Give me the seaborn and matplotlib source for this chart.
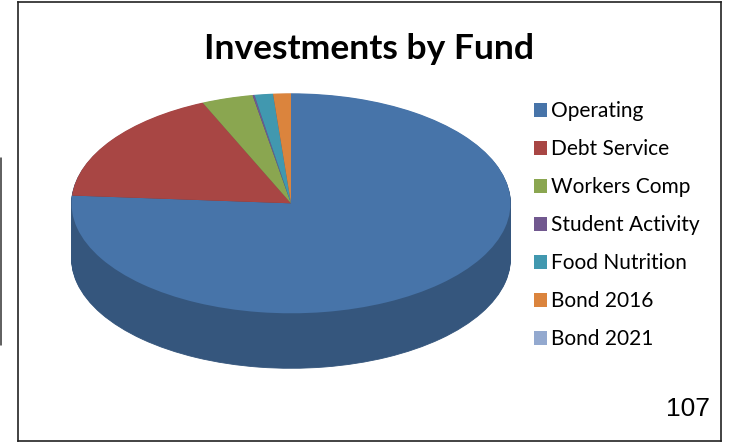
import matplotlib
matplotlib.use("Agg")
import matplotlib.pyplot as plt
import seaborn as sns
from matplotlib.lines import Line2D

categories = ["Operating", "Debt Service", "Workers Comp", "Student Activity",
              "Food Nutrition", "Bond 2016", "Bond 2021"]
values = [76.2, 17.3, 3.79, 0.14, 1.36, 1.31, 0.0]
colors = ["#4774A9", "#A84644", "#8AA650", "#71588F", "#4198AF", "#DB843D", "#93A9CF"]
title = "Investments by Fund"
page_number = "107"

W, H = 730, 444
CX, CY, RX, RY, DEPTH = 291.0, 203.3, 219.5, 110.0, 55
L, R, T, B = 18.0, 721.0, 2.5, 441.0

sns.set_theme(style="white")
palette = sns.color_palette(colors)
wall = [(c[0] * 0.74, c[1] * 0.74, c[2] * 0.74) for c in palette]

fig = plt.figure(figsize=(W / 100, H / 100), dpi=100, facecolor="white")
ax = fig.add_axes([L / W, 1 - B / H, (R - L) / W, (B - T) / H])

for d in range(DEPTH, 0, -1):
    ax.pie(values, colors=wall, startangle=90, counterclock=False,
           center=(0, -d / RY), radius=1, wedgeprops={"linewidth": 0.6, "edgecolor": wall[0]})
wedges, _ = ax.pie(values, colors=palette, startangle=90, counterclock=False,
                   center=(0, 0), radius=1, wedgeprops={"linewidth": 0})

ax.set_aspect("auto")
ax.set_xlim((L - CX) / RX, (R - CX) / RX)
ax.set_ylim((CY - B) / RY, (CY - T) / RY)
ax.set_xticks([])
ax.set_yticks([])
ax.set_frame_on(True)
for s in ax.spines.values():
    s.set_visible(True)
    s.set_color("#222222")
    s.set_linewidth(1.2)

ax.text((368.5 - L) / (R - L), 1 - (49 - T) / (B - T), title, transform=ax.transAxes,
        ha="center", va="center", fontsize=25.5, fontweight="bold",
        family="Lato", color="black")
ax.text((710 - L) / (R - L), 1 - (409 - T) / (B - T), page_number, transform=ax.transAxes,
        ha="right", va="center", fontsize=19, family="Liberation Sans", color="black")

leg = ax.legend(wedges, categories, loc="upper left",
                bbox_to_anchor=(526 / W, 1 - 93 / H), bbox_transform=fig.transFigure,
                frameon=False, labelspacing=0.864, handlelength=0.62,
                handleheight=0.62, handletextpad=0.16, borderpad=0.4, borderaxespad=0,
                prop={"family": "Lato", "size": 15})
for t in leg.get_texts():
    t.set_color("black")

fig.add_artist(Line2D([0.5 / W, 0.5 / W], [1 - 158 / H, 1 - 345 / H],
                      transform=fig.transFigure, color="#333333", lw=1.1))

fig.savefig("out.png", dpi=100)
